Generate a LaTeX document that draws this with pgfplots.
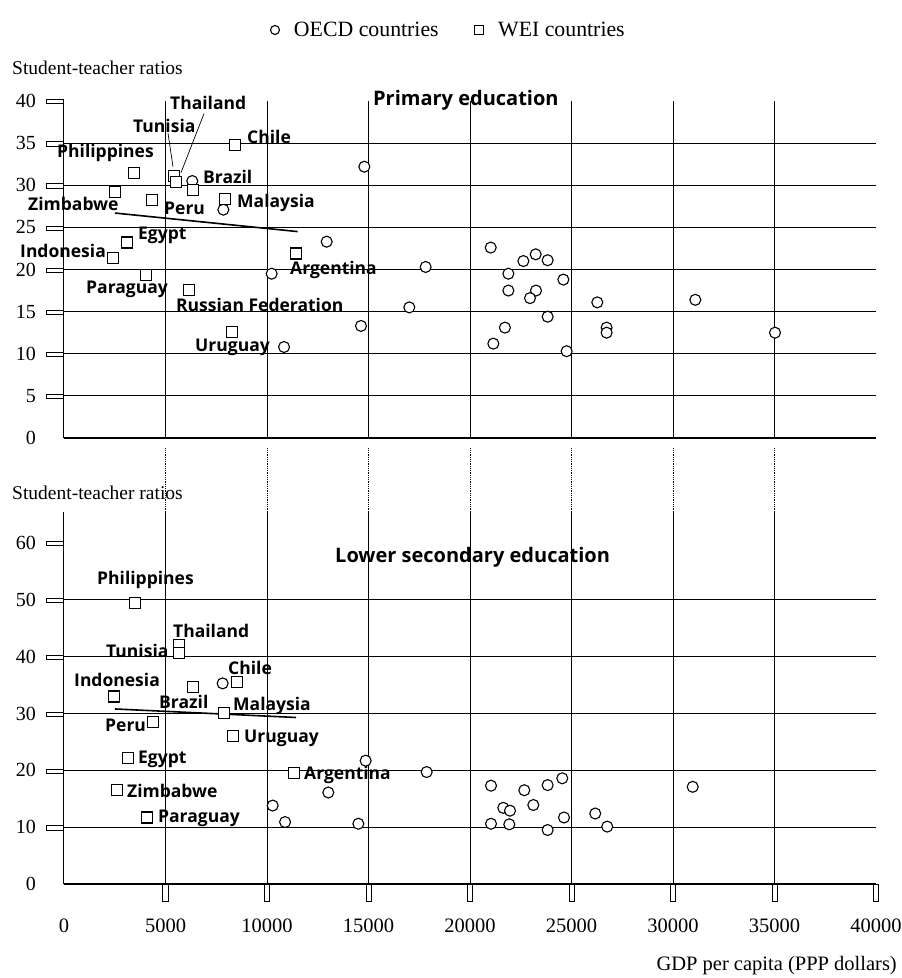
\documentclass[border=0pt]{standalone}
\usepackage{fontspec}
\setmainfont{Liberation Serif}
\newfontfamily\labfont{Open Sans}
\usepackage{pgfplots}
\pgfplotsset{compat=1.18}

\newcommand\yb{\raisebox{4.1pt}{\setlength\fboxsep{0pt}\setlength\fboxrule{0.8pt}\fbox{\rule{0pt}{3.4pt}\rule{16.4pt}{0pt}}}}
\newcommand\yl[1]{#1\hspace{10pt}\yb}
\newcommand\ylz[1]{#1\hspace{10pt}\phantom{\yb}}
\newcommand\xb{\setlength\fboxsep{0pt}\setlength\fboxrule{0.8pt}\fbox{\rule{0pt}{16.4pt}\rule{4.4pt}{0pt}}}
\newcommand\xl[1]{\begin{tabular}{@{}c@{}}\xb\\[9.5pt]#1\end{tabular}}
\newcommand\xlz[1]{\begin{tabular}{@{}c@{}}\phantom{\xb}\\[9.5pt]#1\end{tabular}}

\tikzset{
  lab/.style={anchor=west, inner sep=0pt, font=\labfont\bfseries\fontsize{17.5}{20}\selectfont},
  ttl/.style={anchor=west, inner sep=0pt, font=\labfont\bfseries\fontsize{20}{23}\selectfont},
}
\pgfplotsset{
  common/.style={
    scale only axis, width=812pt,
    xmin=0, xmax=40000, ymin=0,
    axis lines*=left,
    axis line style={line width=1pt},
    major tick length=0pt,
    major grid style={black, line width=0.8pt},
    clip=false,
    scaled x ticks=false, scaled y ticks=false,
    yticklabel style={anchor=east, inner sep=0pt, font=\fontsize{20}{22}\selectfont},
    xticklabel style={anchor=north, inner sep=0pt, font=\fontsize{20.5}{22}\selectfont},
  },
  oecd/.style={only marks, mark=*, mark size=5.5pt, mark options={fill=white, draw=black, line width=1.1pt}},
  wei/.style={only marks, mark=square*, mark size=5.5pt, mark options={fill=white, draw=black, line width=1.1pt}},
}

\begin{document}
\begin{tikzpicture}
\path[use as bounding box] (0,0) rectangle (902pt,978pt);

% ---------------- Primary education ----------------
\begin{axis}[common,
  at={(64pt,540pt)}, anchor=south west, height=337pt, ymax=40,
  xtick={5000,10000,...,35000}, xticklabels={}, xmajorgrids,
  ytick={0,5,...,35}, yticklabels={\ylz{0},\yl{5},\yl{10},\yl{15},\yl{20},\yl{25},\yl{30},\yl{35}}, ymajorgrids,
  extra y ticks={40}, extra y tick labels={\yl{40}}, extra y tick style={grid=none},
  legend style={at={(0.2543,1.2107)}, anchor=west, draw=none, fill=none,
    inner sep=0pt, outer sep=0pt, nodes={inner sep=0pt},
    font=\fontsize{21.8}{24}\selectfont, legend columns=2,
    /tikz/every odd column/.append style={column sep=14.5pt},
    /tikz/every even column/.append style={column sep=36pt}},
  legend cell align=left,
  legend image code/.code={\draw[mark size=4.5pt] plot coordinates {(0.3cm,0cm)};},
]
\addplot[oecd] table {
x y
14795 32.2
6320 30.5
7850 27.1
12940 23.3
10230 19.5
17815 20.3
17010 15.5
14630 13.3
10840 10.8
21020 22.6
22630 21.0
23235 21.8
23825 21.1
21890 19.5
24600 18.8
21890 17.5
23250 17.5
22955 16.6
23825 14.4
21720 13.1
21150 11.2
24760 10.3
26270 16.1
26730 13.1
26730 12.5
31100 16.4
35025 12.5
};
\addlegendentry{OECD countries}
\addplot[wei] table {
x y
8420 34.8
3450 31.5
5420 31.1
5500 30.4
6340 29.4
2510 29.2
4335 28.3
7950 28.4
3120 23.2
2400 21.4
4040 19.3
6160 17.6
8290 12.6
11445 21.9
};
\addlegendentry{WEI countries}
\addplot[line width=1.6pt, forget plot] coordinates {(2510,26.7) (11510,24.5)};

\draw[line width=0.7pt] (axis cs:5123,36.2) -- (axis cs:5369,32.2);
\draw[line width=0.7pt] (axis cs:6896,38.5) -- (axis cs:5764,31.5);

\node[ttl] at (axis cs:15221,40.1) {Primary education};
\node[lab] at (axis cs:5222,39.8) {Thailand};
\node[lab] at (axis cs:3399,37.0) {Tunisia};
\node[lab] at (axis cs:9015,35.7) {Chile};
\node[lab] at (axis cs:-345,33.8) {Philippines};
\node[lab] at (axis cs:6847,31.0) {Brazil};
\node[lab] at (axis cs:-1773,27.8) {Zimbabwe};
\node[lab] at (axis cs:4926,27.3) {Peru};
\node[lab] at (axis cs:8522,27.9) {Malaysia};
\node[lab] at (axis cs:3645,24.0) {Egypt};
\node[lab] at (axis cs:-2167,22.2) {Indonesia};
\node[lab] at (axis cs:11133,19.9) {Argentina};
\node[lab] at (axis cs:1084,17.7) {Paraguay};
\node[lab] at (axis cs:5517,15.8) {Russian Federation};
\node[lab] at (axis cs:6453,10.7) {Uruguay};
\end{axis}

% ---------------- Lower secondary education ----------------
\begin{axis}[common,
  at={(64pt,94pt)}, anchor=south west, height=372pt, ymax=65.46,
  xtick={5000,10000,...,35000},
  xticklabels={\xl{5000},\xl{10000},\xl{15000},\xl{20000},\xl{25000},\xl{30000},\xl{35000}},
  xmajorgrids,
  extra x ticks={0,40000}, extra x tick labels={\xlz{0},\xl{40000}}, extra x tick style={grid=none},
  ytick={0,10,...,50}, yticklabels={\ylz{0},\yl{10},\yl{20},\yl{30},\yl{40},\yl{50}}, ymajorgrids,
  extra y ticks={60}, extra y tick labels={\yl{60}}, extra y tick style={grid=none},
]
\addplot[oecd] table {
x y
7815 35.3
14860 21.7
17865 19.7
13020 16.1
10280 13.8
10890 10.9
14500 10.6
21035 17.3
22675 16.5
23825 17.4
24545 18.6
21640 13.4
21970 12.9
23120 13.9
21035 10.6
21935 10.5
23825 9.5
24630 11.7
26170 12.4
26760 10.1
30970 17.1
};
\addplot[wei] table {
x y
3500 49.5
5680 42.1
5650 40.7
8505 35.6
6370 34.6
2480 33.0
7880 30.1
4400 28.5
8340 26.1
3170 22.1
11330 19.5
2595 16.5
4105 11.7
};
\addplot[line width=1.6pt] coordinates {(2510,30.8) (11430,29.3)};

\pgfplotsinvokeforeach{5000,10000,15000,20000,25000,30000,35000}{
  \draw[densely dotted, line width=0.8pt] (axis cs:#1,65.46) -- ++(0pt,64pt);
}

\node[ttl] at (axis cs:13350,57.5) {Lower secondary education};
\node[lab] at (axis cs:1626,53.5) {Philippines};
\node[lab] at (axis cs:5369,44.5) {Thailand};
\node[lab] at (axis cs:2069,41.0) {Tunisia};
\node[lab] at (axis cs:8079,38.0) {Chile};
\node[lab] at (axis cs:493,35.9) {Indonesia};
\node[lab] at (axis cs:4680,32.0) {Brazil};
\node[lab] at (axis cs:8325,31.3) {Malaysia};
\node[lab] at (axis cs:2020,28.0) {Peru};
\node[lab] at (axis cs:8867,25.7) {Uruguay};
\node[lab] at (axis cs:3645,22.0) {Egypt};
\node[lab] at (axis cs:11822,19.2) {Argentina};
\node[lab] at (axis cs:3103,16.4) {Zimbabwe};
\node[lab] at (axis cs:4630,11.6) {Paraguay};
\end{axis}

\node[anchor=base west, inner sep=0pt, font=\fontsize{19.5}{22}\selectfont] at (12pt,903pt) {Student-teacher ratios};
\node[anchor=base west, inner sep=0pt, font=\fontsize{19.5}{22}\selectfont] at (12pt,478pt) {Student-teacher ratios};
\node[anchor=base east, inner sep=0pt, font=\fontsize{20.5}{23}\selectfont] at (897pt,8pt) {GDP per capita (PPP dollars)};
\end{tikzpicture}
\end{document}
